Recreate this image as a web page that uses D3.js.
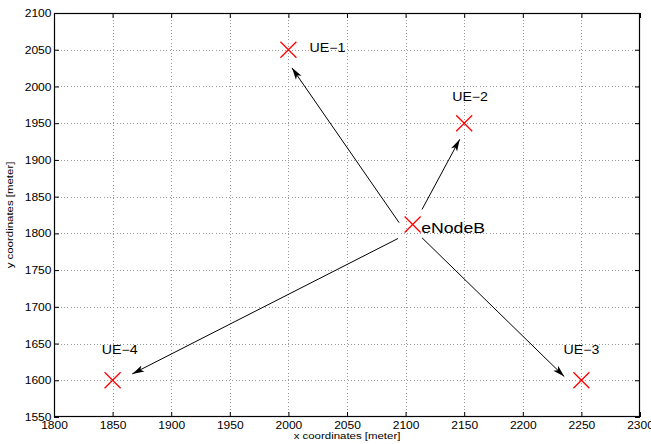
<!DOCTYPE html>
<html>
<head>
<meta charset="utf-8">
<script src="https://cdn.jsdelivr.net/npm/d3@7"></script>
<style>
  html, body { margin: 0; padding: 0; background: #fff; }
  svg { display: block; }
  text { font-family: "Liberation Sans", Arial, Helvetica, sans-serif; fill: #000; }
</style>
</head>
<body>
<svg id="chart" width="651" height="444"></svg>
<script>
// Base station and user equipment positions [meter]
const enb = { name: "eNodeB", x: 2106, y: 1812 };
const ueNames = ["UE\u22121", "UE\u22122", "UE\u22123", "UE\u22124"];
const ueX = [2000, 2150, 2250, 1850];
const ueY = [2050, 1950, 1600, 1600];

// Text annotation anchors [meter] (label centre for UE labels)
const labelX = [2018, 2155, 2250, 1856];
const labelY = [2053, 1986, 1641, 1641];
const labelAnchor = ["start", "middle", "middle", "middle"];

// Link arrows from eNodeB towards each UE: tail (x0,y0) -> head (x1,y1) [meter]
const arrowX0 = [2094.5, 2114, 2114, 2093.5];
const arrowY0 = [1814.5, 1832.5, 1794, 1793];
const arrowX1 = [2003, 2146.2, 2235.4, 1866.8];
const arrowY1 = [2025.3, 1928, 1605, 1608.7];

// Axis ticks
const xTicks = [1800, 1850, 1900, 1950, 2000, 2050, 2100, 2150, 2200, 2250, 2300];
const yTicks = [1550, 1600, 1650, 1700, 1750, 1800, 1850, 1900, 1950, 2000, 2050, 2100];

const svg = d3.select("#chart");
const plot = { left: 54, right: 640, top: 13, bottom: 417 };
const stretch = 1.18; // horizontal glyph widening used for all text

const x = d3.scaleLinear().domain([1800, 2300]).range([plot.left, plot.right]);
const y = d3.scaleLinear().domain([1550, 2100]).range([plot.bottom, plot.top]);

// Dotted grid
const grid = svg.append("g").attr("stroke", "#999").attr("stroke-width", 1)
  .attr("stroke-dasharray", "1,2.3").attr("shape-rendering", "crispEdges");
grid.selectAll("line.gx").data(xTicks.slice(1, -1)).join("line")
  .attr("x1", d => Math.round(x(d)) + 0.5).attr("x2", d => Math.round(x(d)) + 0.5)
  .attr("y1", plot.top).attr("y2", plot.bottom);
grid.selectAll("line.gy").data(yTicks.slice(1, -1)).join("line")
  .attr("y1", d => Math.round(y(d)) + 0.5).attr("y2", d => Math.round(y(d)) + 0.5)
  .attr("x1", plot.left).attr("x2", plot.right);

// Axes: ticks point inward on all four sides
function styleAxis(g) {
  g.select(".domain").remove();
  g.selectAll("line").attr("stroke", "#000").attr("stroke-width", 1);
}
const fontTick = 10.2;

const bottomAxis = svg.append("g").attr("transform", `translate(0,${plot.bottom})`)
  .call(d3.axisBottom(x).tickValues(xTicks).tickSizeInner(-5).tickSizeOuter(0).tickFormat(d3.format("d")));
styleAxis(bottomAxis);
bottomAxis.selectAll("text").attr("font-size", fontTick).attr("y", 0).attr("dy", null)
  .attr("transform", `translate(0,12) scale(${stretch},1)`).attr("text-anchor", "middle").attr("fill", "#000");

const topAxis = svg.append("g").attr("transform", `translate(0,${plot.top})`)
  .call(d3.axisTop(x).tickValues(xTicks).tickSizeInner(-5).tickSizeOuter(0).tickFormat(""));
styleAxis(topAxis);

const leftAxis = svg.append("g").attr("transform", `translate(${plot.left},0)`)
  .call(d3.axisLeft(y).tickValues(yTicks).tickSizeInner(-5).tickSizeOuter(0).tickFormat(d3.format("d")));
styleAxis(leftAxis);
leftAxis.selectAll("text").attr("font-size", fontTick).attr("x", 0).attr("dy", "0.35em")
  .attr("transform", `translate(-2.5,0) scale(${stretch},1)`).attr("text-anchor", "end").attr("fill", "#000");

const rightAxis = svg.append("g").attr("transform", `translate(${plot.right},0)`)
  .call(d3.axisRight(y).tickValues(yTicks).tickSizeInner(-5).tickSizeOuter(0).tickFormat(""));
styleAxis(rightAxis);

// Box
svg.append("rect")
  .attr("x", plot.left + 0.5).attr("y", plot.top + 0.5)
  .attr("width", plot.right - plot.left - 1).attr("height", plot.bottom - plot.top - 1)
  .attr("fill", "none").attr("stroke", "#000").attr("stroke-width", 1.2);

// Axis titles
svg.append("text").attr("font-size", 9.7).attr("text-anchor", "middle")
  .attr("transform", `translate(${(plot.left + plot.right) / 2},439) scale(${stretch},1)`)
  .text("x coordinates [meter]");
svg.append("text").attr("font-size", 9.7).attr("text-anchor", "middle")
  .attr("transform", `translate(12.5,${(plot.top + plot.bottom) / 2}) rotate(-90) scale(${stretch},1)`)
  .text("y coordinates [meter]");

// Arrowhead marker
const defs = svg.append("defs");
defs.append("marker").attr("id", "head")
  .attr("viewBox", "0 0 12 8").attr("refX", 12).attr("refY", 4)
  .attr("markerUnits", "userSpaceOnUse").attr("markerWidth", 12).attr("markerHeight", 8)
  .attr("orient", "auto")
  .append("path").attr("d", "M0,0.6 L12,4 L0,7.4 L3,4 Z").attr("fill", "#000");

// Link arrows
svg.append("g").selectAll("line").data(d3.range(arrowX0.length)).join("line")
  .attr("x1", i => x(arrowX0[i])).attr("y1", i => y(arrowY0[i]))
  .attr("x2", i => x(arrowX1[i])).attr("y2", i => y(arrowY1[i]))
  .attr("stroke", "#000").attr("stroke-width", 1)
  .attr("marker-end", "url(#head)");

// Cross markers
const crossHalf = 8;
const crossPath = `M${-crossHalf},${-crossHalf}L${crossHalf},${crossHalf}M${-crossHalf},${crossHalf}L${crossHalf},${-crossHalf}`;
const pts = ueX.map((v, i) => ({ x: v, y: ueY[i] })).concat([{ x: enb.x, y: enb.y }]);
svg.append("g").selectAll("path").data(pts).join("path")
  .attr("transform", d => `translate(${x(d.x)},${y(d.y)})`)
  .attr("d", crossPath).attr("fill", "none").attr("stroke", "#ff0000").attr("stroke-width", 1.3);

// UE labels
svg.append("g").selectAll("text").data(d3.range(ueNames.length)).join("text")
  .attr("font-size", 12).attr("text-anchor", i => labelAnchor[i]).attr("dy", "0.35em")
  .attr("transform", i => `translate(${x(labelX[i])},${y(labelY[i])}) scale(${stretch},1)`)
  .text(i => ueNames[i]);

// eNodeB label
svg.append("text").attr("font-size", 15).attr("text-anchor", "start").attr("dy", "0.35em")
  .attr("transform", `translate(${x(enb.x) + 8.5},${y(enb.y) + 3}) scale(${stretch},1)`)
  .text(enb.name);
</script>
</body>
</html>
